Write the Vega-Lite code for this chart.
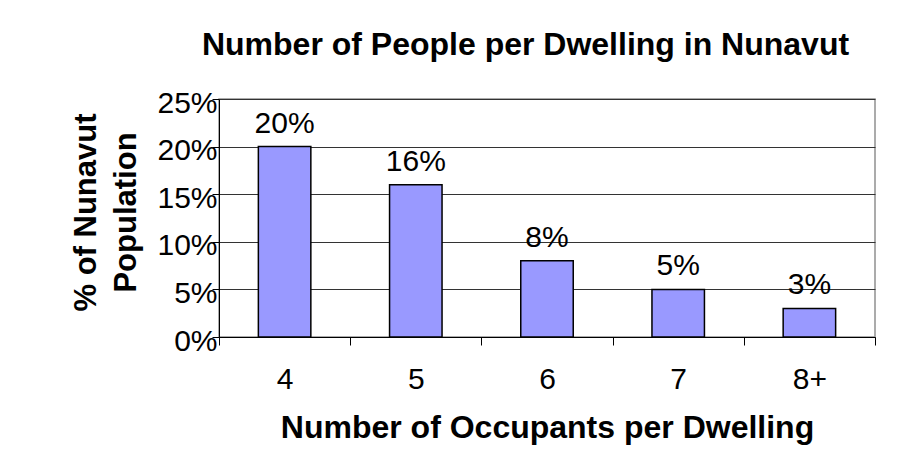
{
  "$schema": "https://vega.github.io/schema/vega-lite/v6.json",
  "width": 656,
  "height": 238,
  "autosize": {"type": "none"},
  "padding": {"left": 219, "top": 99, "right": 49, "bottom": 129},
  "background": "white",
  "title": {
    "text": "Number of People per Dwelling in Nunavut",
    "fontSize": 32,
    "fontWeight": "bold",
    "color": "black",
    "anchor": "middle",
    "frame": "group",
    "baseline": "alphabetic",
    "offset": 1,
    "dx": -21.5
  },
  "data": {
    "values": [
      {"occupants": "4", "share": 0.20},
      {"occupants": "5", "share": 0.16},
      {"occupants": "6", "share": 0.08},
      {"occupants": "7", "share": 0.05},
      {"occupants": "8+", "share": 0.03}
    ]
  },
  "encoding": {
    "x": {
      "field": "occupants",
      "type": "ordinal",
      "sort": null,
      "scale": {"paddingInner": 0, "paddingOuter": 0},
      "axis": {
        "title": "Number of Occupants per Dwelling",
        "titleFontSize": 32,
        "titleFontWeight": "bold",
        "titleColor": "black",
        "titleBaseline": "alphabetic",
        "titleY": 100,
        "labelAngle": 0,
        "labelFontSize": 30,
        "labelColor": "black",
        "labelPadding": 19,
        "tickSize": 8,
        "tickColor": "black",
        "tickBand": "extent",
        "domainColor": "black",
        "grid": false
      }
    },
    "y": {
      "field": "share",
      "type": "quantitative",
      "scale": {"domain": [0, 0.25], "nice": false},
      "axis": {
        "values": [0, 0.05, 0.1, 0.15, 0.2, 0.25],
        "format": ".0%",
        "title": ["% of Nunavut", "Population"],
        "titleFontSize": 31,
        "titleFontWeight": "bold",
        "titleColor": "black",
        "titleLineHeight": 40,
        "titleAngle": 270,
        "titleAlign": "center",
        "titleBaseline": "alphabetic",
        "titleX": -124,
        "titleY": 113,
        "labelFontSize": 30,
        "labelColor": "black",
        "labelPadding": -5,
        "labelOffset": 4,
        "tickSize": 7,
        "tickColor": "black",
        "domainColor": "black",
        "grid": true,
        "gridColor": "#333333",
        "gridWidth": 1
      }
    }
  },
  "layer": [
    {"mark": {"type": "bar", "width": {"band": 0.4}, "fill": "#9999FF", "stroke": "black", "strokeWidth": 1.5}},
    {
      "mark": {"type": "text", "baseline": "alphabetic", "dy": -14, "fontSize": 30, "color": "black"},
      "encoding": {"text": {"field": "share", "format": ".0%"}}
    }
  ],
  "config": {
    "font": "Liberation Sans",
    "view": {"stroke": "#909090", "strokeWidth": 1.5},
    "axis": {"labelFont": "Liberation Sans", "titleFont": "Liberation Sans"}
  }
}
